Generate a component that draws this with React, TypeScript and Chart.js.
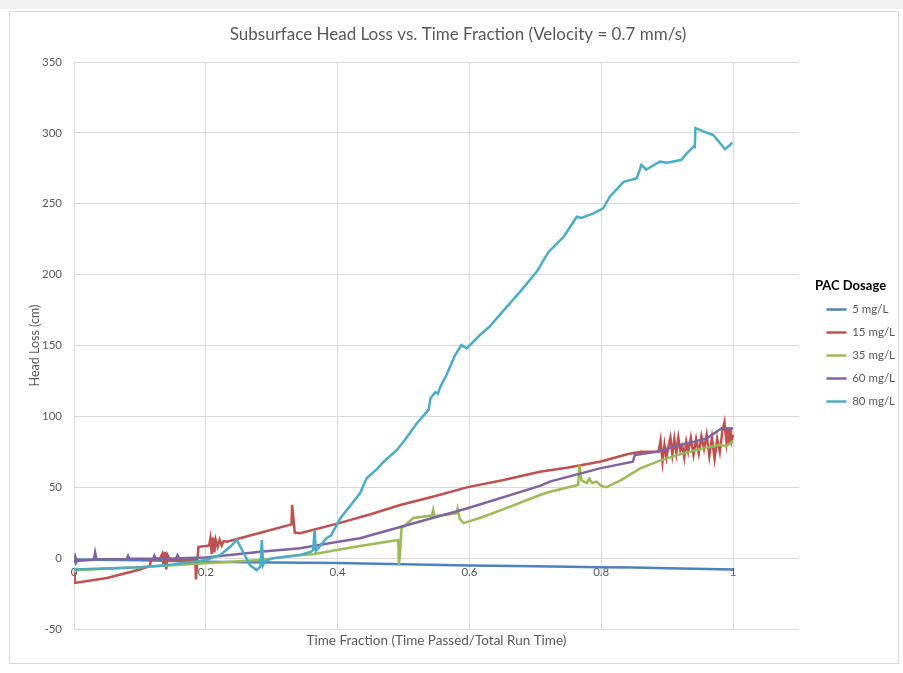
import React, { useEffect, useRef } from "react";
import { Chart, registerables } from "chart.js";

Chart.register(...registerables);

const chartTitle = "Subsurface Head Loss vs. Time Fraction (Velocity = 0.7 mm/s)";
const xTitle = "Time Fraction (Time Passed/Total Run Time)";
const yTitle = "Head Loss (cm)";
const legendTitle = "PAC Dosage";
const seriesNames = ["5 mg/L", "15 mg/L", "35 mg/L", "60 mg/L", "80 mg/L"];
const seriesColors = ["#4F81BD", "#C0504D", "#9BBB59", "#8064A2", "#4BACC6"];
const xTicks = [0, 0.2, 0.4, 0.6, 0.8, 1];
const yTicks = [-50, 0, 50, 100, 150, 200, 250, 300, 350];

const pac5: [number, number][] = [
  [0, 1.5], [0.003, -3.5], [0.006, -1], [0.1, -1.5], [0.2, -2.5], [0.3, -3], [0.4, -3.4],
  [0.5, -4.3], [0.6, -5.2], [0.7, -5.8], [0.8, -6.5], [0.85, -6.6], [0.9, -7.2], [1.0, -8],
];

const pac15: [number, number][] = [
  [0, -10], [0.001, -17.5], [0.05, -14], [0.1, -8], [0.115, -5.6], [0.117, -1], [0.13, -0.5],
  [0.134, 3], [0.136, -6], [0.138, 4.5], [0.14, -8], [0.142, 2], [0.145, -1], [0.16, -0.8],
  [0.175, -1.2], [0.184, -1], [0.185, -15], [0.187, -2], [0.189, 8], [0.2, 8.5], [0.205, 9],
  [0.207, 14], [0.209, 3], [0.211, 14.5], [0.213, 4], [0.215, 13], [0.218, 8], [0.221, 13],
  [0.224, 9], [0.227, 12], [0.232, 11.5], [0.28, 17.5], [0.33, 23.8], [0.331, 37.5], [0.335, 18],
  [0.343, 17.5], [0.401, 24.5], [0.45, 31], [0.495, 37.5], [0.55, 44], [0.596, 49.9], [0.65, 55],
  [0.707, 61], [0.75, 64], [0.798, 68], [0.841, 73.4], [0.86, 75], [0.884, 75],
  [0.887, 75], [0.89, 83], [0.893, 68], [0.896, 80], [0.899, 71], [0.902, 79], [0.905, 85],
  [0.908, 73], [0.911, 84], [0.914, 74], [0.917, 85], [0.92, 76], [0.923, 79], [0.926, 71],
  [0.929, 82], [0.932, 75], [0.936, 85], [0.94, 73], [0.944, 84], [0.948, 74], [0.952, 86],
  [0.956, 77], [0.96, 87], [0.964, 72], [0.968, 85], [0.972, 70], [0.976, 84], [0.98, 75],
  [0.984, 90], [0.987, 96], [0.99, 82], [0.992, 91], [0.994, 80], [0.996, 92], [0.998, 83], [1.0, 87],
];

const pac35: [number, number][] = [
  [0, -8.5], [0.1, -6.5], [0.2, -3.7], [0.283, -1.3], [0.343, 2.2], [0.363, 2.8], [0.401, 5.9],
  [0.434, 8.6], [0.492, 12.8], [0.493, -4.9], [0.495, 5], [0.497, 21], [0.515, 28.3], [0.543, 30],
  [0.545, 34], [0.547, 29.5], [0.58, 31.6], [0.582, 35], [0.585, 28], [0.591, 24.7], [0.62, 29],
  [0.66, 36], [0.707, 44.5], [0.722, 46.8], [0.765, 51.6], [0.767, 65.7], [0.77, 55], [0.778, 53],
  [0.782, 56], [0.786, 53], [0.793, 54], [0.8, 51], [0.808, 50], [0.83, 55], [0.859, 63.3],
  [0.89, 69], [0.925, 73.9], [0.96, 78], [0.98, 80], [0.99, 79], [1.0, 82.8],
];

const pac60: [number, number][] = [
  [0, -3], [0.002, 1], [0.004, -2], [0.03, -1.2], [0.032, 4], [0.034, -0.8], [0.08, -0.6],
  [0.082, 1.5], [0.084, -0.5], [0.12, -0.3], [0.122, 1.8], [0.124, -0.3], [0.155, -0.1],
  [0.157, 2], [0.159, 0], [0.2, 0.5], [0.283, 4.5], [0.343, 7], [0.401, 11.6], [0.434, 14],
  [0.495, 22], [0.596, 35], [0.707, 51], [0.722, 54], [0.798, 63.3], [0.848, 68], [0.851, 72.7],
  [0.884, 75], [0.919, 79.8], [0.94, 82], [0.96, 84.5], [0.983, 91.6], [1.0, 91.5],
];

const pac80: [number, number][] = [
  [0, -8], [0.1, -6.5], [0.15, -4.5], [0.2, -1.3], [0.222, 2.2], [0.237, 8], [0.247, 12.8],
  [0.259, 2.2], [0.267, -4.9], [0.277, -8.4], [0.283, -6], [0.285, 12.8], [0.287, -4.9],
  [0.29, -2], [0.302, 0], [0.343, 2.2], [0.36, 4.5], [0.363, 5.9], [0.365, 20], [0.367, 5],
  [0.383, 14], [0.39, 16], [0.404, 28], [0.434, 45.7], [0.444, 56.3], [0.46, 63], [0.47, 68],
  [0.49, 76.3], [0.502, 83.4], [0.52, 95], [0.538, 104.6], [0.541, 112.7], [0.548, 117],
  [0.552, 116], [0.556, 121], [0.565, 129], [0.578, 143], [0.588, 150.3], [0.596, 148],
  [0.616, 157.4], [0.63, 163], [0.646, 171.6], [0.677, 188], [0.702, 202], [0.72, 216],
  [0.743, 226.7], [0.763, 240.8], [0.77, 240], [0.788, 243.2], [0.803, 246.8], [0.813, 255],
  [0.834, 265.5], [0.854, 268], [0.861, 277.4], [0.868, 274], [0.889, 279.7], [0.9, 279],
  [0.922, 281], [0.93, 285.6], [0.94, 290.3], [0.942, 290], [0.943, 303.3], [0.955, 301],
  [0.97, 298.5], [0.988, 288.4], [0.999, 293],
];

const seriesData = [pac5, pac15, pac35, pac60, pac80];

const FONT = "Lato, 'Open Sans', sans-serif";
const TEXT = "#595959";
const GRID = "#d9d9d9";

export default function App() {
  const ref = useRef<HTMLCanvasElement | null>(null);

  useEffect(() => {
    if (!ref.current) return;
    const chart = new Chart(ref.current, {
      type: "line",
      data: {
        datasets: seriesData.map((d, i) => ({
          label: seriesNames[i],
          data: d.map(([x, y]) => ({ x, y })),
          borderColor: seriesColors[i],
          backgroundColor: seriesColors[i],
          borderWidth: 2.5,
          pointRadius: 0,
          tension: 0,
          fill: false,
          order: 10 - i,
        })),
      },
      options: {
        animation: false,
        responsive: false,
        maintainAspectRatio: false,
        layout: { padding: { left: 0, top: 0, bottom: 0, right: -6 } },
        plugins: {
          tooltip: { enabled: false },
          title: {
            display: true,
            text: chartTitle,
            color: TEXT,
            font: { family: FONT, size: 17, weight: "normal", lineHeight: 1.2 },
            padding: { top: 11.8, bottom: 16.8 },
          },
          legend: {
            position: "right",
            align: "center",
            title: {
              display: true,
              text: legendTitle,
              position: "start",
              color: "#000000",
              font: { family: FONT, size: 13, weight: "bold", lineHeight: 1 },
              padding: { top: 21, bottom: 0 },
            },
            labels: {
              usePointStyle: true,
              pointStyle: "line",
              pointStyleWidth: 20,
              color: TEXT,
              padding: 11.5,
              font: { family: FONT, size: 11.5 },
              sort: (a: any, b: any) => a.datasetIndex - b.datasetIndex,
            },
          },
        },
        scales: {
          x: {
            type: "linear",
            position: "bottom",
            min: 0,
            max: 1.1,
            afterBuildTicks: (s: any) => {
              s.ticks = xTicks.map((v) => ({ value: v }));
            },
            afterFit: (s: any) => {
              s.height = 35;
            },
            ticks: { display: false },
            grid: { color: GRID, drawTicks: false },
            border: { color: GRID },
            title: {
              display: true,
              text: xTitle,
              color: TEXT,
              font: { family: FONT, size: 13.5 },
              padding: { top: 0, bottom: 15 },
            },
          },
          x2: {
            type: "linear",
            position: { y: 0 },
            min: 0,
            max: 1.1,
            afterBuildTicks: (s: any) => {
              s.ticks = xTicks.map((v) => ({ value: v }));
            },
            afterFit: (s: any) => {
              s.height = 0;
            },
            ticks: {
              color: TEXT,
              font: { family: FONT, size: 11.5 },
              padding: 7,
              maxRotation: 0,
              autoSkip: false,
              callback: (v: any) => String(Math.round(Number(v) * 10) / 10),
            },
            grid: { display: false, drawTicks: false },
            border: { display: false },
          },
          y: {
            type: "linear",
            position: "left",
            min: -50,
            max: 350,
            afterBuildTicks: (s: any) => {
              s.ticks = yTicks.map((v) => ({ value: v }));
            },
            afterFit: (s: any) => {
              s.width = 63;
            },
            ticks: {
              color: TEXT,
              font: { family: FONT, size: 11.5 },
              padding: 12,
            },
            grid: { color: GRID, drawTicks: false },
            border: { color: GRID },
            title: {
              display: true,
              text: yTitle,
              color: TEXT,
              font: { family: FONT, size: 12.5 },
              padding: { top: 16.5, bottom: 0 },
            },
          },
          gap: {
            type: "linear",
            position: "right",
            display: true,
            afterFit: (s: any) => {
              s.width = 16;
            },
            ticks: { display: false },
            grid: { display: false, drawTicks: false },
            border: { display: false },
          },
        },
      } as any,
    });
    return () => chart.destroy();
  }, []);

  return (
    <div style={{ position: "absolute", left: 0, top: 0, width: 903, height: 673, background: "#ffffff", overflow: "hidden" }}>
      <div style={{ position: "absolute", left: 0, top: 0, width: 903, height: 9, background: "#f0f0f0" }} />
      <div
        style={{
          position: "absolute",
          left: 9,
          top: 11,
          width: 890,
          height: 653,
          border: "1px solid #d9d9d9",
          boxSizing: "border-box",
        }}
      />
      <canvas ref={ref} width={888} height={651} style={{ position: "absolute", left: 11, top: 13, width: 888, height: 651 }} />
    </div>
  );
}
